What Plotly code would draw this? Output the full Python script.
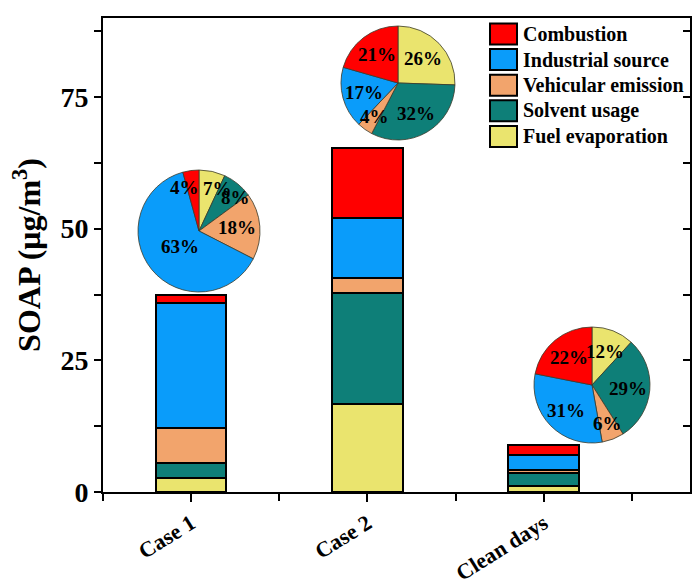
import math
import plotly.graph_objects as go

# ---- data -------------------------------------------------------------
categories = ["Case 1", "Case 2", "Clean days"]
sources = ["Fuel evaporation", "Solvent usage", "Vehicular emission",
           "Industrial source", "Combustion"]
# SOAP contribution (ug/m3) per source, stacked bottom -> top
fuel_evaporation = [2.6, 16.7, 1.05]
solvent_usage = [3.0, 21.0, 2.6]
vehicular_emission = [6.6, 2.9, 0.55]
industrial_source = [23.7, 11.35, 2.75]
combustion = [1.6, 13.45, 1.95]

colors = {
    "Fuel evaporation": "#EAE46E",
    "Solvent usage": "#0E7F78",
    "Vehicular emission": "#F2A46C",
    "Industrial source": "#0A9CFA",
    "Combustion": "#FF0000",
}
series = {
    "Fuel evaporation": fuel_evaporation,
    "Solvent usage": solvent_usage,
    "Vehicular emission": vehicular_emission,
    "Industrial source": industrial_source,
    "Combustion": combustion,
}
legend_order = ["Combustion", "Industrial source", "Vehicular emission",
                "Solvent usage", "Fuel evaporation"]

FONT = "Times New Roman, Liberation Serif, serif"
W, H = 692, 579
ML, MR, MT, MB = 103, 2, 18, 87
PW, PH = W - ML - MR, H - MT - MB


def px_x(x):
    return (x - ML) / PW


def px_y(y):
    return (H - MB - y) / PH


xpos = list(range(len(categories)))

fig = go.Figure()

# stacked bars
for name in sources:
    fig.add_trace(go.Bar(
        x=xpos, y=series[name], name=name, width=0.4,
        marker=dict(color=colors[name], line=dict(color="black", width=2)),
        showlegend=False,
    ))

annotations = []

# pie insets, one per case (center px, radius px)
pie_geom = [(199, 231, 61), (398, 83, 57), (592, 385, 58)]
for i, (cx, cy, r) in enumerate(pie_geom):
    vals = [series[s][i] for s in sources]
    total = sum(vals)
    fig.add_trace(go.Pie(
        values=vals, labels=sources, sort=False, direction="clockwise",
        rotation=0,
        marker=dict(colors=[colors[s] for s in sources],
                    line=dict(color="#3a3a2a", width=0.8)),
        textinfo="none",
        domain=dict(x=[px_x(cx - r), px_x(cx + r)],
                    y=[px_y(cy + r), px_y(cy - r)]),
        showlegend=False, hoverinfo="label+percent",
    ))
    # percentage labels placed along each slice's bisector
    cum = 0.0
    for v in vals:
        frac = v / total
        mid = (cum + frac / 2) * 2 * math.pi
        cum += frac
        small = frac < 0.10
        if frac > 0.5:
            rad = 0.40 * r
        elif small:
            rad = 0.72 * r
        else:
            rad = 0.62 * r
        lx = cx + rad * math.sin(mid)
        ly = cy - rad * math.cos(mid)
        if small and math.cos(mid) > 0.7:
            lx += 9 * (1 if math.sin(mid) > 0 else -1)
        annotations.append(dict(
            xref="paper", yref="paper", x=px_x(lx), y=px_y(ly),
            xanchor="center", yanchor="middle", showarrow=False,
            text=f"{round(frac * 100)}%",
            font=dict(family=FONT, size=19, color="black", weight="bold"),
        ))

# legend drawn as swatches + labels
shapes = []
row_y0, row_dy = 34, 25.6
for k, name in enumerate(legend_order):
    yc = row_y0 + k * row_dy
    shapes.append(dict(
        type="rect", xref="paper", yref="paper",
        x0=px_x(490), x1=px_x(517), y0=px_y(yc + 10.5), y1=px_y(yc - 10.5),
        fillcolor=colors[name], line=dict(color="black", width=2),
    ))
    annotations.append(dict(
        xref="paper", yref="paper", x=px_x(521), y=px_y(yc),
        xanchor="left", yanchor="middle", showarrow=False, text=name,
        font=dict(family=FONT, size=20, color="black", weight="bold"),
    ))

fig.update_layout(
    width=W, height=H,
    margin=dict(l=ML, r=MR, t=MT, b=MB),
    barmode="stack",
    plot_bgcolor="white", paper_bgcolor="white",
    font=dict(family=FONT, color="black"),
    shapes=shapes, annotations=annotations,
    xaxis=dict(
        range=[-0.5, 2.83], tickvals=xpos, ticktext=categories,
        tickangle=-32, ticks="outside", ticklen=8, tickwidth=2,
        tickcolor="black", automargin=False,
        minor=dict(tick0=0.5, dtick=1, ticks="outside", ticklen=7,
                   tickwidth=2, tickcolor="black"),
        showline=True, linewidth=2, linecolor="black", mirror=True,
        showgrid=False, zeroline=False,
        tickfont=dict(family=FONT, size=22, color="black", weight="bold"),
    ),
    yaxis=dict(
        range=[0, 90], tick0=0, dtick=25, ticks="outside", ticklen=7,
        tickwidth=2, tickcolor="black", automargin=False,
        minor=dict(dtick=12.5, ticks="outside", ticklen=7, tickwidth=2,
                   tickcolor="black"),
        showline=True, linewidth=2, linecolor="black", mirror=True,
        showgrid=False, zeroline=False,
        tickfont=dict(family=FONT, size=28, color="black", weight="bold"),
        title=dict(text="SOAP (μg/m<sup>3</sup>)", standoff=10,
                   font=dict(family=FONT, size=32, color="black",
                             weight="bold")),
    ),
    yaxis2=dict(
        overlaying="y", side="right", matches="y", range=[0, 90],
        tick0=0, dtick=25, ticks="inside", ticklen=7, tickwidth=2,
        tickcolor="black", automargin=False,
        minor=dict(dtick=12.5, ticks="inside", ticklen=7, tickwidth=2,
                   tickcolor="black"),
        showticklabels=False, showgrid=False, zeroline=False,
        showline=False,
    ),
)

# invisible trace to anchor the right-hand tick axis
fig.add_trace(go.Scatter(x=[0], y=[0], yaxis="y2", mode="markers",
                         marker=dict(opacity=0), showlegend=False,
                         hoverinfo="skip"))

fig.write_html("out.html")
